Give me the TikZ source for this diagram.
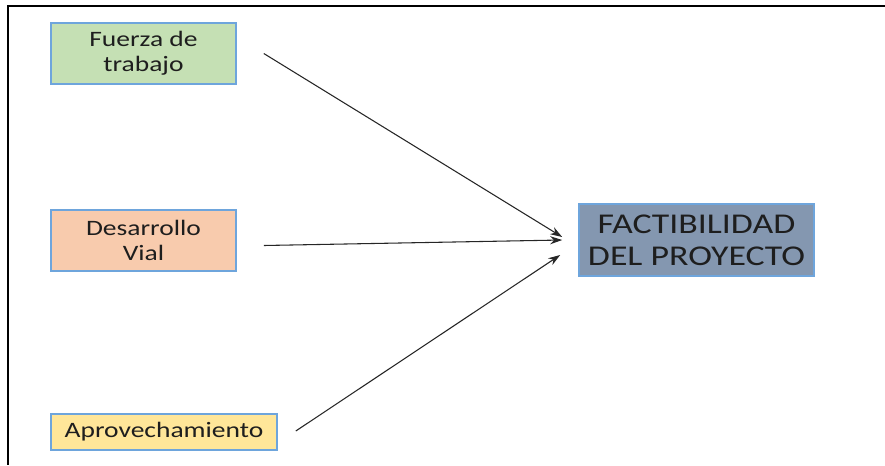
\documentclass[tikz,border=0pt]{standalone}
\usepackage{fontspec}
\setmainfont{Carlito}[FakeStretch=1.25]
\usetikzlibrary{calc,arrows.meta}

\definecolor{verde}{RGB}{197,224,180}
\definecolor{salmon}{RGB}{248,203,173}
\definecolor{amarillo}{RGB}{255,230,153}
\definecolor{grisazul}{RGB}{132,151,176}
\definecolor{borde}{RGB}{110,165,220}
\definecolor{texto}{RGB}{30,30,30}

\tikzset{
  caja/.style={draw=borde, line width=1.2pt, align=center, inner sep=0pt,
    text=texto, font=\fontsize{16.5}{18.5}\selectfont},
  flecha/.style={-{Stealth[length=9pt,width=6pt]}, line width=0.8pt, draw=black!85}
}

\begin{document}
\begin{tikzpicture}[x=0.75pt,y=0.75pt,yscale=-1,xscale=1]
\useasboundingbox (0,0) rectangle (885,465);

%Frame
\draw [line width=1.6pt] (885,6) -- (8,6) -- (8,465);

%Shape: Rectangle [fuerza]
\node [caja, fill=verde, minimum width=138.75pt, minimum height=45.75pt] (fuerza) at (143.5,53.5) {Fuerza de\\trabajo};
%Shape: Rectangle [desarrollo]
\node [caja, fill=salmon, minimum width=138.75pt, minimum height=45.75pt] (desarrollo) at (143.5,240.5) {Desarrollo\\Vial};
%Shape: Rectangle [aprov]
\node [caja, fill=amarillo, minimum width=169.5pt, minimum height=27pt] (aprov) at (164,432) {Aprovechamiento};
%Shape: Rectangle [factib]
\node [caja, fill=grisazul, minimum width=176.25pt, minimum height=54pt,
  font=\fontsize{21.5}{24}\selectfont] (factib) at (696.5,240) {FACTIBILIDAD\\DEL PROYECTO};

%Arrows
\draw [flecha] ($(fuerza.east)+(27,0)$) -- ($(factib.west)+(-16,-3)$);
\draw [flecha] ($(desarrollo.east)+(27,5)$) -- ($(factib.west)+(-16,0)$);
\draw [flecha] ($(aprov.east)+(18,-1)$) -- ($(factib.west)+(-18,15)$);

\end{tikzpicture}
\end{document}
